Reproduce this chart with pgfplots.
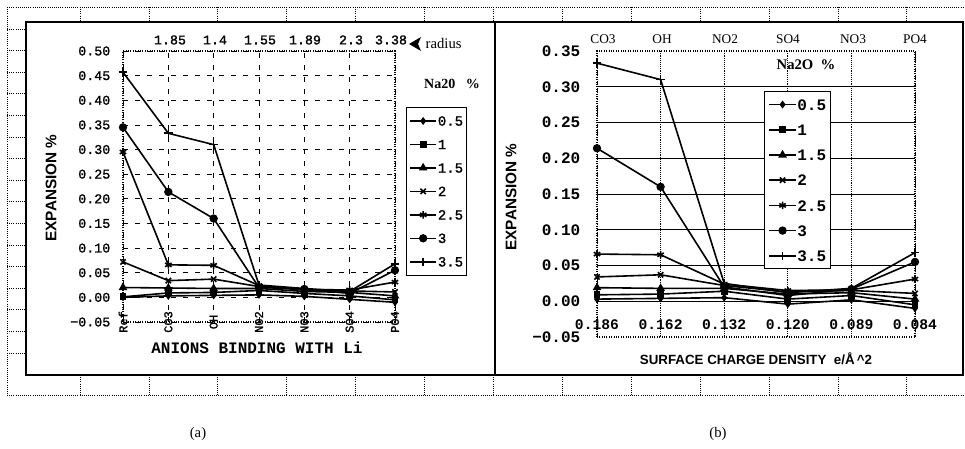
\documentclass[border=0pt]{standalone}
\usepackage{fontspec}
\setmainfont{Liberation Serif}
\newfontfamily\monof{Liberation Mono}
\newfontfamily\monom[FakeBold=1.2]{Liberation Mono}
\newfontfamily\sansf{Liberation Sans}
\usepackage{pgfplots}
\pgfplotsset{compat=1.18}

\pgfplotscreateplotcyclelist{na}{
 {black,mark=diamond*,mark size=2pt},
 {black,mark=square*,mark size=2pt},
 {black,mark=triangle*,mark size=2.6pt},
 {black,mark=x,mark size=2.8pt},
 {black,mark=asterisk,mark size=2.8pt},
 {black,mark=*,mark size=2.5pt},
 {black,mark=+,mark size=3.2pt},
}
\pgfplotsset{
 naplot/.style={
  every axis plot/.append style={line width=1.2pt, mark options={solid}},
  legend image code/.code={\draw[line width=1.2pt, mark repeat=2,mark phase=2] plot coordinates {(0cm,0cm) (0.35cm,0cm) (0.7cm,0cm)};},
 },
}

\begin{document}
\begin{tikzpicture}
\useasboundingbox (0,0) rectangle (723.75pt,-336.75pt);

% sheet cells and frame (pixel units, y downwards)
\begin{scope}[x=0.75pt,y=-0.75pt]
 \draw[densely dotted, line width=0.6pt] (7,7)--(965,7);
 \draw[densely dotted, line width=0.6pt] (7,395)--(965,395);
 \draw[densely dotted, line width=0.6pt] (7,7)--(7,395);
 \foreach \k in {0,...,12}{
  \draw[densely dotted, line width=0.6pt] ({80+68.9*\k},7)--({80+68.9*\k},22);
  \draw[densely dotted, line width=0.6pt] ({80+68.9*\k},375)--({80+68.9*\k},395);
 }
 \foreach \k in {0,...,15}{
  \draw[densely dotted, line width=0.6pt] (7,{29+21.6*\k})--(26,{29+21.6*\k});
 }
 \draw[line width=0.9pt] (26,22) rectangle (963,375);
 \draw[line width=0.9pt] (495,22)--(495,375);

 % panel (a) texts
 \node[rotate=90, font=\sansf\bfseries\fontsize{11.5}{11.5}\selectfont] at (51,188) {EXPANSION \%};
 \node[font=\monof\bfseries\fontsize{12}{12}\selectfont] at (257,348) {ANIONS BINDING WITH Li};
 \node[font=\bfseries\fontsize{10.5}{10.5}\selectfont] at (452,84) {Na20\ \ \ \%};
 \fill (409,44)--(421,37)--(418,44)--(421,51)--cycle;
 \node[font=\fontsize{11}{11}\selectfont, anchor=west] at (421,43) {radius};
 \node[font=\monom\fontsize{10}{10}\selectfont] at (170,40) {1.85};
 \node[font=\monom\fontsize{10}{10}\selectfont] at (215,40) {1.4};
 \node[font=\monom\fontsize{10}{10}\selectfont] at (260,40) {1.55};
 \node[font=\monom\fontsize{10}{10}\selectfont] at (305,40) {1.89};
 \node[font=\monom\fontsize{10}{10}\selectfont] at (351,40) {2.3};
 \node[font=\monom\fontsize{10}{10}\selectfont] at (391,40) {3.38};

 % panel (b) texts
 \node[rotate=90, font=\sansf\bfseries\fontsize{11.5}{11.5}\selectfont] at (511,197) {EXPANSION \%};
 \node[font=\sansf\bfseries\fontsize{10}{10}\selectfont] at (756,359) {SURFACE CHARGE DENSITY\ \ e/Å\,\^{}2};
 \node[font=\bfseries\fontsize{11}{11}\selectfont] at (806,65) {Na2O\ \ \%};
 \node[font=\fontsize{10}{10}\selectfont] at (603,39) {CO3};
 \node[font=\fontsize{10}{10}\selectfont] at (662,39) {OH};
 \node[font=\fontsize{10}{10}\selectfont] at (725,39) {NO2};
 \node[font=\fontsize{10}{10}\selectfont] at (788,39) {SO4};
 \node[font=\fontsize{10}{10}\selectfont] at (853,39) {NO3};
 \node[font=\fontsize{10}{10}\selectfont] at (915,39) {PO4};

 \node[font=\fontsize{11}{11}\selectfont] at (198,434) {(a)};
 \node[font=\fontsize{11}{11}\selectfont] at (718,434) {(b)};
\end{scope}

% ---------------- panel (a)
\begin{axis}[
 naplot,
 at={(92.25pt,-241.5pt)}, anchor=south west,
 scale only axis, width=204pt, height=203.25pt,
 xmin=0, xmax=6, ymin=-0.05, ymax=0.5,
 axis line style={black, densely dotted, line width=0.8pt},
 xtick={0,...,6}, xticklabels={Ref,CO3,OH,NO2,NO3,SO4,PO4},
 ytick={-0.05,0,0.05,0.1,0.15,0.2,0.25,0.3,0.35,0.4,0.45,0.5},
 yticklabels={−0.05,0.00,0.05,0.10,0.15,0.20,0.25,0.30,0.35,0.40,0.45,0.50},
 major tick length=0pt,
 grid=major, major grid style={black, dash pattern=on 4pt off 5pt, line width=0.6pt},
 xticklabel style={rotate=90, anchor=center, font=\monom\fontsize{9}{9}\selectfont},
 yticklabel style={font=\monom\fontsize{10}{10}\selectfont, xshift=-6pt},
 clip=false,
 cycle list name=na,
 legend cell align=left,
 legend style={at={(1.04,0.793)}, anchor=north west, draw=black, line width=0.8pt,
  fill=white, inner xsep=2pt, inner ysep=6pt, row sep=9.6pt,
  font=\monom\fontsize{10.5}{10.5}\selectfont,
  nodes={inner sep=0.5pt, text height=7pt, text depth=0pt}},
]
\addplot coordinates {(0,0.000) (1,0.003) (2,0.004) (3,0.005) (4,0.002) (5,-0.004) (6,-0.010)};
\addlegendentry{0.5}
\addplot coordinates {(0,0.001) (1,0.009) (2,0.010) (3,0.014) (4,0.008) (5,0.003) (6,-0.005)};
\addlegendentry{1}
\addplot coordinates {(0,0.020) (1,0.019) (2,0.018) (3,0.018) (4,0.012) (5,0.010) (6,0.003)};
\addlegendentry{1.5}
\addplot coordinates {(0,0.072) (1,0.034) (2,0.037) (3,0.022) (4,0.015) (5,0.013) (6,0.011)};
\addlegendentry{2}
\addplot coordinates {(0,0.295) (1,0.066) (2,0.065) (3,0.024) (4,0.016) (5,0.015) (6,0.031)};
\addlegendentry{2.5}
\addplot coordinates {(0,0.345) (1,0.214) (2,0.160) (3,0.020) (4,0.017) (5,0.008) (6,0.055)};
\addlegendentry{3}
\addplot coordinates {(0,0.457) (1,0.333) (2,0.310) (3,0.025) (4,0.018) (5,0.012) (6,0.068)};
\addlegendentry{3.5}
\end{axis}

% ---------------- panel (b)
\begin{axis}[
 naplot,
 at={(447.75pt,-252.75pt)}, anchor=south west,
 scale only axis, width=238.5pt, height=214.5pt,
 xmin=0, xmax=5, ymin=-0.05, ymax=0.35,
 axis line style={black, densely dotted, line width=0.8pt},
 xtick={0,...,5}, xticklabels={0.186,0.162,0.132,0.120,0.089,0.084},
 ytick={-0.05,0,0.05,0.1,0.15,0.2,0.25,0.3,0.35},
 yticklabels={−0.05,0.00,0.05,0.10,0.15,0.20,0.25,0.30,0.35},
 extra y ticks={0,0.05,0.1,0.15,0.2,0.25,0.3}, extra y tick labels={},
 extra y tick style={ymajorgrids=true, major grid style={black, solid, line width=0.6pt}},
 major tick length=0pt,
 xmajorgrids, major grid style={black, densely dotted, line width=0.7pt},
 xticklabel style={anchor=center, yshift=9pt, font=\monof\bfseries\fontsize{11}{11}\selectfont},
 yticklabel style={font=\monof\bfseries\fontsize{12}{12}\selectfont, xshift=-9pt},
 clip=false,
 cycle list name=na,
 legend cell align=left,
 legend style={at={(0.525,0.86)}, anchor=north west, draw=black, line width=0.8pt,
  fill=white, inner xsep=3pt, inner ysep=5pt, row sep=9.4pt,
  font=\monof\bfseries\fontsize{12}{12}\selectfont,
  nodes={inner sep=0.5pt, text height=8.5pt, text depth=0pt}},
]
\addplot coordinates {(0,0.003) (1,0.004) (2,0.005) (3,-0.004) (4,0.002) (5,-0.010)};
\addlegendentry{0.5}
\addplot coordinates {(0,0.009) (1,0.010) (2,0.014) (3,0.003) (4,0.008) (5,-0.005)};
\addlegendentry{1}
\addplot coordinates {(0,0.019) (1,0.018) (2,0.018) (3,0.010) (4,0.012) (5,0.003)};
\addlegendentry{1.5}
\addplot coordinates {(0,0.034) (1,0.037) (2,0.022) (3,0.013) (4,0.015) (5,0.011)};
\addlegendentry{2}
\addplot coordinates {(0,0.066) (1,0.065) (2,0.024) (3,0.015) (4,0.016) (5,0.031)};
\addlegendentry{2.5}
\addplot coordinates {(0,0.214) (1,0.160) (2,0.020) (3,0.008) (4,0.017) (5,0.055)};
\addlegendentry{3}
\addplot coordinates {(0,0.333) (1,0.310) (2,0.025) (3,0.012) (4,0.018) (5,0.068)};
\addlegendentry{3.5}
\end{axis}
\end{tikzpicture}
\end{document}
